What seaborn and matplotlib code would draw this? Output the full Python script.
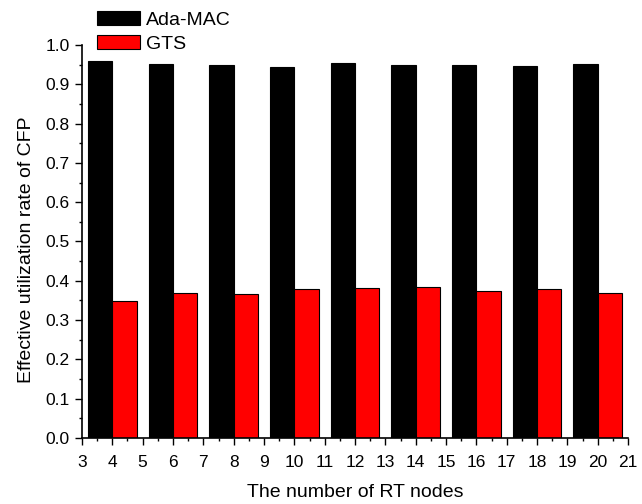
import matplotlib
matplotlib.use("Agg")
import matplotlib.pyplot as plt
from matplotlib.ticker import MultipleLocator
import seaborn as sns
import pandas as pd

nodes = [4, 6, 8, 10, 12, 14, 16, 18, 20]
ada_mac = [0.959, 0.952, 0.949, 0.945, 0.954, 0.950, 0.949, 0.947, 0.952]
gts = [0.349, 0.369, 0.366, 0.379, 0.382, 0.384, 0.375, 0.378, 0.368]
series = ["Ada-MAC", "GTS"]

df = pd.DataFrame({
    "nodes": nodes * 2,
    "rate": ada_mac + gts,
    "method": [series[0]] * len(nodes) + [series[1]] * len(nodes),
})

sns.set_theme(style="ticks")
plt.rcParams["font.family"] = ["Liberation Sans", "DejaVu Sans"]
plt.rcParams["text.color"] = "black"
plt.rcParams["axes.labelcolor"] = "black"

fig = plt.figure(figsize=(6.42, 5.04), dpi=100)
ax = fig.add_axes([82/642, 1-438/504, (628-82)/642, (438-45)/504])

sns.barplot(data=df, x="nodes", y="rate", hue="method", native_scale=True,
            palette=["#000000", "#ff0000"], saturation=1, edgecolor="black",
            linewidth=0.8, ax=ax, hue_order=series)

ax.set_xlim(3, 21)
ax.set_ylim(0, 1.0)
ax.xaxis.set_major_locator(MultipleLocator(1))
ax.xaxis.set_minor_locator(MultipleLocator(0.5))
ax.yaxis.set_major_locator(MultipleLocator(0.1))
ax.yaxis.set_minor_locator(MultipleLocator(0.05))
ax.set_yticklabels([f"{v:.1f}" for v in ax.get_yticks()])
ax.tick_params(axis="both", which="major", direction="out", length=5, width=1,
               labelsize=12.5, color="black", labelcolor="black")
ax.tick_params(axis="x", which="major", pad=7)
ax.tick_params(axis="y", which="major", pad=4)
ax.tick_params(axis="both", which="minor", direction="out", length=2.5, width=1,
               color="black")
for s in ["top", "right"]:
    ax.spines[s].set_visible(False)
for s in ["left", "bottom"]:
    ax.spines[s].set_linewidth(1.2)
    ax.spines[s].set_color("black")

ax.set_xlabel("The number of RT nodes", fontsize=14, labelpad=10, color="black")
ax.set_ylabel("Effective utilization rate of CFP", fontsize=14, color="black")
ax.yaxis.set_label_coords(-0.086, 0.478)

leg = ax.legend(loc="upper left", bbox_to_anchor=(97/642, 1-11/504),
                bbox_transform=fig.transFigure, frameon=False, fontsize=14,
                handlelength=2.2, handleheight=0.77, handletextpad=0.3,
                labelspacing=0.3, borderpad=0, borderaxespad=0)
for t in leg.get_texts():
    t.set_color("black")

fig.savefig("out.png", dpi=100)
